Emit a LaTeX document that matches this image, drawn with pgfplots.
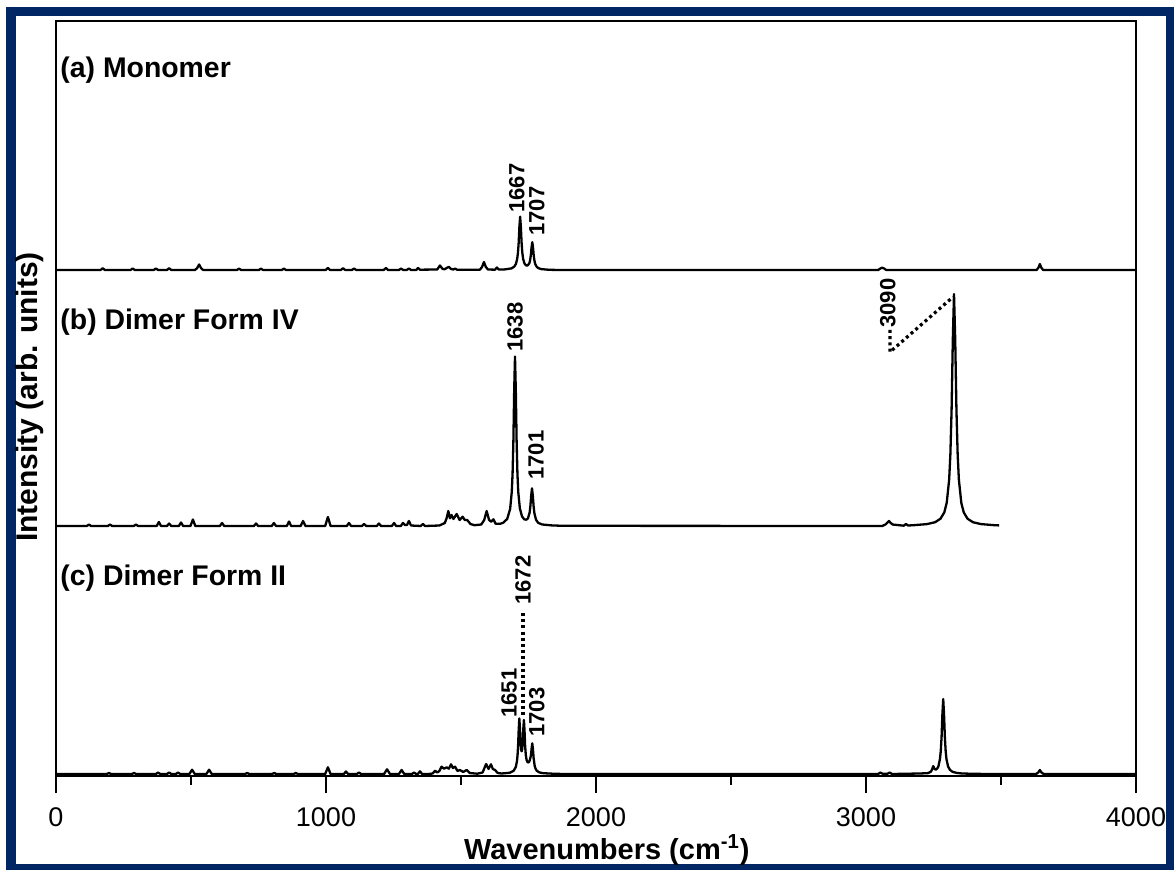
\documentclass[border=0pt]{standalone}
\usepackage{fontspec}
\setmainfont{Liberation Sans}
\usepackage{pgfplots}
\pgfplotsset{compat=1.18}
\definecolor{navy}{RGB}{0,38,100}
\begin{document}
\begin{tikzpicture}
\useasboundingbox (-28pt,-46.5pt) rectangle (559pt,388pt);
\fill[white] (-28pt,-46.5pt) rectangle (559pt,388pt);
\draw[line width=4.6pt, navy] (-22.5pt,-46.5pt) rectangle (557.5pt,382.25pt);
\begin{axis}[
 scale only axis, width=540pt, height=377.5pt,
 xmin=0, xmax=4000, ymin=0, ymax=755,
 xtick={0,1000,2000,3000,4000}, xticklabels={0,1000,2000,3000,4000},
 minor xtick={500,1500,2500,3500},
 ytick=\empty,
 xtick pos=bottom, tick align=outside,
 major tick length=8.5pt, minor tick length=4.5pt,
 tick style={black, line width=1.3pt},
 axis line style={line width=1.4pt},
 xticklabel style={font=\fontsize{13.5}{14}\selectfont, anchor=north, inner sep=0pt, yshift=-7pt},
 xlabel={Wavenumbers (cm\textsuperscript{-1})},
 xlabel style={font=\bfseries\fontsize{14.5}{16}\selectfont, at={(axis description cs:0.51,-0.098)}, anchor=center},
 ylabel={Intensity (arb. units)},
 ylabel style={font=\bfseries\fontsize{15}{16}\selectfont, at={(axis description cs:-0.024,0.502)}, anchor=center},
 clip=false,
]
\tikzset{sp/.style={black, no markers, line width=1.15pt, line join=round}}
% (a) Monomer
\addplot[sp] coordinates {
(0,506) (165,506) (173,507.8) (181,506) (276,506) (284,507.5) (292,506) (362,506) (370,507.5) (378,506)
(411,506) (419,507.8) (427,506) (515,506) (523,508) (530,511.5) (537,508) (545,506) (670,506) (678,507.3) (686,506)
(751,506) (759,507.3) (767,506) (836,506) (844,507.3) (852,506) (999,506) (1007,508) (1015,506) (1055,506) (1063,507.8) (1071,506)
(1096,506) (1104,507.5) (1112,506) (1214,506) (1222,508) (1230,506) (1270,506) (1278,507.5) (1286,506) (1299,506) (1307,507.5) (1315,506)
(1334,506) (1341,508) (1348,506.3) (1412,506.5) (1422,510.5) (1432,507) (1440,506.8) (1450,508.5) (1456,509) (1463,507) (1472,506.5)
(1478,507.5) (1485,506.3) (1570,506.3) (1578,509) (1585,514) (1592,509) (1600,506.5) (1626,506.3) (1633,508.5) (1640,506.5)
(1657,506.4) (1687,507.6) (1697,509.3) (1703,511.8) (1708,516.9) (1711,523.3) (1713.5,532.8) (1716.3,549) (1719,559.4) (1721.7,549.2)
(1724.5,533) (1727,523.6) (1730,517.3) (1735,512.5) (1741,510.6) (1747,510.6) (1753,512.7) (1756,515.8) (1758.5,520.5) (1761.3,528.7)
(1764,533.8) (1766.7,528.5) (1769.5,520.1) (1772,515.3) (1775,511.9) (1781,509) (1787,507.8) (1797,506.9) (1827,506.2) (1867,506)
(3045,506) (3053,507.5) (3060,508.3) (3067,507.5) (3075,506) (3632,506) (3639,508.5) (3644,512) (3649,508.5) (3656,506) (4000,506)
};
% (b) Dimer Form IV
\addplot[sp] coordinates {
(0,250) (114,250) (122,251.5) (130,250) (192,250) (200,251.5) (208,250) (288,250) (296,251.5) (304,250) (373,250) (381,254) (389,250)
(411,250) (419,252.5) (427,250) (455,250) (463,253.5) (471,250) (498,250) (507,256.5) (516,250) (607,250) (615,253) (623,250)
(733,250) (741,252.5) (749,250) (799,250) (807,253) (815,250) (855,250) (863,254.5) (871,250) (906,250) (915,255) (924,250)
(997,250) (1007,259) (1017,250) (1077,250) (1085,253) (1093,250) (1133,250) (1141,252) (1149,250) (1188,250) (1196,252.5) (1204,250)
(1244,250) (1252,253) (1260,250) (1277,250) (1285,253) (1293,251) (1300,251) (1307,255) (1315,250.5) (1351,250) (1359,252) (1367,250)
(1420,250.5) (1440,253) (1447,258) (1453,265) (1459,257.7) (1465,261) (1472,257) (1484,262) (1495,256) (1506,259.3) (1514,256)
(1523,256) (1535,252) (1550,250.8) (1575,251.5) (1586,256) (1595,265) (1604,256) (1612,254.3) (1620,256.7) (1628,252.3) (1645,252.2)
(1656,253.2) (1671,257) (1682,267) (1688,284) (1691,302) (1694,334.6) (1697,385.4) (1700,419.4) (1703,385.6) (1706,335) (1709,302.5)
(1712,284.3) (1718,267.6) (1726,259.6) (1734,256.7) (1742,256.3) (1748,257.6) (1754,263.2) (1757,269.9) (1760,280.6) (1763,287.7)
(1766,280.4) (1769,269.5) (1772,262.5) (1778,256.2) (1786,253.1) (1801,251.5) (1836,250.6) (1876,250.2)
(3060,250) (3072,251.5) (3080,253.5) (3085,255) (3090,253.5) (3098,251.5) (3140,250.3) (3148,252) (3156,250.5)
(3176,250.8) (3226,251.9) (3256,253.8) (3276,257.3) (3290,263.6) (3299,273.2) (3308,296.4) (3312.5,321.5) (3317,366) (3321.5,435.6)
(3326,482) (3330.5,435.6) (3335,366) (3339.5,321.5) (3344,296.4) (3353,273.2) (3362,263.6) (3376,257.3) (3396,253.8) (3426,251.9)
(3476,250.8) (3493,250.6)
};
% (c) Dimer Form II
\addplot[sp] coordinates {
(0,2) (188,2) (196,3) (204,2) (281,2) (289,3) (297,2) (370,2) (378,3.5) (386,2) (411,2) (419,3.5) (427,2) (444,2) (452,3.5) (460,2)
(494,2) (504,6.3) (514,2) (557,2) (567,6.3) (577,2) (700,2) (708,3) (716,2) (800,2) (808,3) (816,2) (880,2) (888,3) (896,2)
(997,2) (1007,8.7) (1017,2) (1066,2) (1074,4.5) (1082,2) (1114,2) (1122,3.5) (1130,2) (1215,2) (1226,6.7) (1237,2) (1270,2) (1280,6) (1290,2)
(1318,2) (1326,3.5) (1334,2) (1340,2) (1348,4.7) (1356,2)
(1380,2) (1395,2.5) (1404,5.3) (1412,3.5) (1420,5) (1428,9.3) (1437,7.3) (1447,8.7) (1455,7.3) (1463,11.7) (1470,8) (1478,9.3)
(1487,5) (1496,6) (1508,4) (1521,6) (1532,3) (1560,2.3) (1580,3.5) (1593,12) (1602,7) (1611,11.7) (1618,7) (1626,6) (1636,3) (1650,2.5)
(1680,3.2) (1695,5.2) (1703,9) (1707.5,15.2) (1709.5,21) (1711.5,30.4) (1713.75,46.5) (1716,57.6) (1718.25,48.2) (1720.5,34.1)
(1722.5,26.9) (1724.5,24.7) (1726.5,26.6) (1728.5,33.3) (1730.75,46.7) (1733,56.1) (1735.25,45.8) (1737.5,30.2) (1740,21)
(1743,16) (1747,13.5) (1752,14) (1755,16) (1759,20.5) (1761.5,27.5) (1764,32.7) (1766.5,26.8) (1769,17.9) (1773,10) (1776,7.3)
(1781,5.2) (1790,3.6) (1805,2.8) (1840,2.3) (1880,2)
(3045,2) (3053,3.5) (3061,2.3) (3080,2.3) (3088,3.5) (3096,2)
(3200,2.5) (3230,2.9) (3240,4.3) (3245,6.6) (3249,9.9) (3253,7.4) (3258,6.3) (3264,7.6) (3268,9.5) (3274,17) (3277,25.1) (3280,39.5)
(3283,62) (3286,77) (3289,62) (3292,39.5) (3295,25.1) (3298,17) (3304,9.5) (3311,6.1) (3321,4.1) (3336,3.1) (3356,2.5) (3400,2.2)
(3450,2) (3630,2) (3638,3.5) (3644,6) (3650,3.5) (3658,2) (4000,2)
};
% panel labels
\node[anchor=west, inner sep=0pt, font=\bfseries\fontsize{14.2}{16}\selectfont] at (axis cs:15,706) {(a) Monomer};
\node[anchor=west, inner sep=0pt, font=\bfseries\fontsize{14.2}{16}\selectfont] at (axis cs:15,454) {(b) Dimer Form IV};
\node[anchor=west, inner sep=0pt, font=\bfseries\fontsize{14.2}{16}\selectfont] at (axis cs:15,198) {(c) Dimer Form II};
% peak labels
\tikzset{pk/.style={rotate=90, anchor=west, inner sep=0pt, font=\bfseries\fontsize{11}{12}\selectfont}}
\node[pk] at (axis cs:1707,563) {1667};
\node[pk] at (axis cs:1781,540) {1707};
\node[pk] at (axis cs:1700,424) {1638};
\node[pk] at (axis cs:1778,296) {1701};
\node[pk] at (axis cs:3081,448) {3090};
\node[pk] at (axis cs:1730,171) {1672};
\node[pk] at (axis cs:1678,58) {1651};
\node[pk] at (axis cs:1781,39) {1703};
% dotted leaders
\draw[line width=1.6pt, dash pattern=on 1.5pt off 1.6pt] (axis cs:1730,163) -- (axis cs:1730,59);
\draw[line width=1.6pt, dash pattern=on 1.5pt off 1.6pt] (axis cs:3089,446) -- (axis cs:3089,424) -- (axis cs:3322,479);
\end{axis}
\end{tikzpicture}
\end{document}
